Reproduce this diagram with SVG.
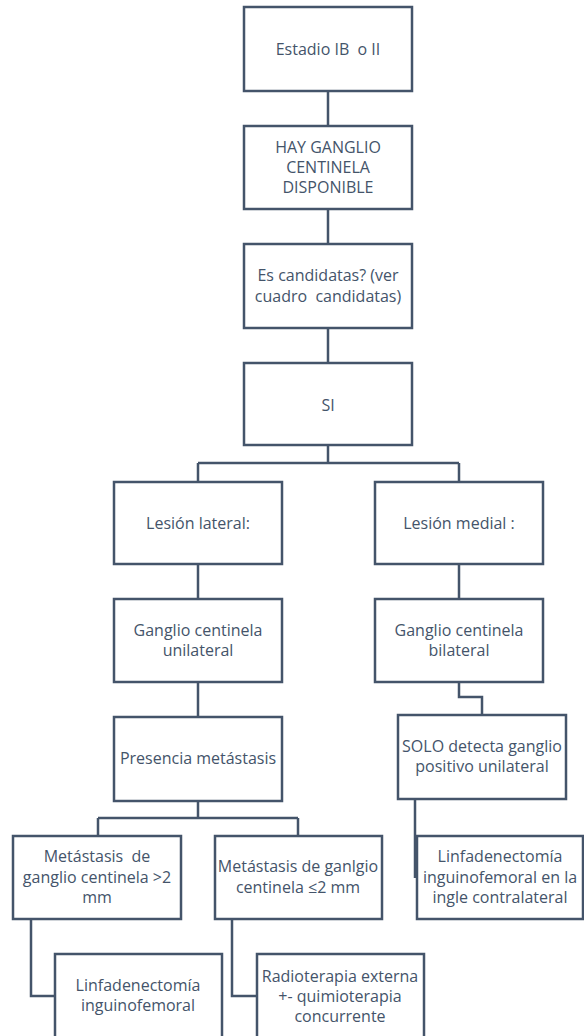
<svg xmlns="http://www.w3.org/2000/svg" width="584" height="1036" viewBox="0 0 584 1036">
<style>
rect{fill:#fff;stroke:#44546a;stroke-width:2.5}
.c path{fill:none;stroke:#44546a;stroke-width:2.5}
text{font-family:"Open Sans","Noto Sans",sans-serif;font-size:16px;fill:#44546a;text-anchor:middle;white-space:pre}
</style>
<rect x="0" y="0" width="584" height="1036" style="stroke:none"/>
<g class="c" id="connectors">
<path d="M328 91V126M328 209V244M328 328V363M328 445V463M198 463H459M198 463V482M459 463V482M198 564V599M459 564V599M198 682V717M459 682V697H482V715M198 801V818M98 818H298M98 818V836M298 818V836M415 799V878M31 919V996H55M232 919V996H257"/>
</g>
<g id="n1"><rect x="244" y="7" width="168" height="84"/><text x="328" y="55">Estadio IB  o II</text></g>
<g id="n2"><rect x="244" y="126" width="168" height="83"/><text x="328" y="153">HAY GANGLIO</text><text x="328" y="173">CENTINELA</text><text x="328" y="193">DISPONIBLE</text></g>
<g id="n3"><rect x="244" y="244" width="168" height="84"/><text x="328" y="281">Es candidatas? (ver</text><text x="328" y="302">cuadro  candidatas)</text></g>
<g id="n4"><rect x="244" y="363" width="168" height="82"/><text x="328" y="411">SI</text></g>
<g id="n5"><rect x="114" y="482" width="168" height="82"/><text x="198" y="529">Lesión lateral:</text></g>
<g id="n6"><rect x="375" y="482" width="168" height="82"/><text x="459" y="529">Lesión medial :</text></g>
<g id="n7"><rect x="114" y="599" width="168" height="83"/><text x="198" y="636">Ganglio centinela</text><text x="198" y="656">unilateral</text></g>
<g id="n8"><rect x="375" y="599" width="168" height="83"/><text x="459" y="636">Ganglio centinela</text><text x="459" y="656">bilateral</text></g>
<g id="n9"><rect x="114" y="717" width="168" height="84"/><text x="198" y="764">Presencia metástasis</text></g>
<g id="n10"><rect x="398" y="715" width="168" height="84"/><text x="482" y="752">SOLO detecta ganglio</text><text x="482" y="772">positivo unilateral</text></g>
<g id="n11"><rect x="13" y="836" width="168" height="83"/><text x="97" y="862">Metástasis  de</text><text x="97" y="883">ganglio centinela &gt;2</text><text x="97" y="903">mm</text></g>
<g id="n12"><rect x="215" y="836" width="167" height="83"/><text x="298" y="872">Metástasis de ganlgio</text><text x="298" y="893">centinela ≤2 mm</text></g>
<g id="n13"><rect x="417" y="836" width="166" height="83"/><text x="500" y="862">Linfadenectomía</text><text x="500" y="883">inguinofemoral en la</text><text x="500" y="903">ingle contralateral</text></g>
<g id="n14"><rect x="55" y="954" width="167" height="84"/><text x="138" y="991">Linfadenectomía</text><text x="138" y="1011">inguinofemoral</text></g>
<g id="n15"><rect x="257" y="954" width="167" height="84"/><text x="340" y="982">Radioterapia externa</text><text x="340" y="1002">+- quimioterapia</text><text x="340" y="1022">concurrente</text></g>
</svg>
